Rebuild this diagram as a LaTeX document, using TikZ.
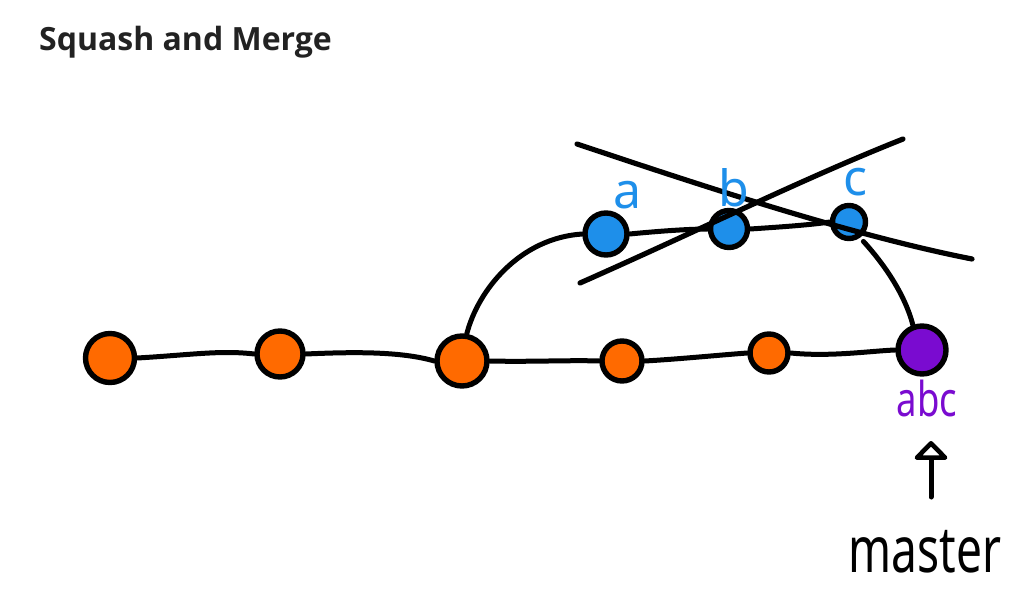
\documentclass[tikz,border=0pt]{standalone}
\usepackage{fontspec}
\setmainfont{Noto Sans}
\newfontfamily\titlefont{Open Sans}
\usetikzlibrary{arrows.meta}
\definecolor{cOrange}{HTML}{FF6A00}
\definecolor{cBlue}{HTML}{1E8FEA}
\definecolor{cPurple}{HTML}{7A0BD0}
\definecolor{cTitle}{HTML}{222222}
\tikzset{
  commit/.style={circle, draw=black, line width=5.4pt, inner sep=0pt},
  orangec/.style={commit, fill=cOrange},
  bluec/.style={commit, fill=cBlue},
  purplec/.style={commit, fill=cPurple},
  edge/.style={line width=5pt, line cap=round, black},
  crossline/.style={line width=5.2pt, line cap=round, black},
  lbl/.style={inner sep=0pt, font=\fontsize{50}{52}\selectfont},
}
\begin{document}
\begin{tikzpicture}[x=1pt,y=-1pt]
\useasboundingbox[fill=white] (0,0) rectangle (1027,593);
\node[anchor=west, inner sep=0pt, text=cTitle, font=\titlefont\fontsize{32}{36}\selectfont\bfseries] (title) at (39,42) {Squash and Merge};

% main line
\node[orangec, minimum width=48pt, minimum height=49pt] (o1) at (110,358) {};
\node[orangec, minimum width=46pt, minimum height=45pt] (o2) at (280,354) {};
\node[orangec, minimum width=50pt, minimum height=48pt] (o3) at (462,361) {};
\node[orangec, minimum width=40pt, minimum height=40pt] (o4) at (622,361) {};
\node[orangec, minimum width=37pt, minimum height=38pt] (o5) at (769,353) {};
\node[purplec, minimum width=45pt, minimum height=48pt] (m) at (922,350) {};

% branch
\node[bluec, minimum width=42pt, minimum height=39pt] (a) at (606,234) {};
\node[bluec, minimum width=36pt, minimum height=37pt] (b) at (729,229) {};
\node[bluec, minimum width=33pt, minimum height=32pt] (c) at (849,222) {};

\draw[edge] (o1.east) .. controls (190,355) and (220,350) .. (o2.west);
\draw[edge] (o2.east) .. controls (350,352) and (400,351) .. (o3.west);
\draw[edge] (o3.east) .. controls (530,362) and (570,360) .. (o4.west);
\draw[edge] (o4.east) .. controls (680,359) and (720,355) .. (o5.west);
\draw[edge] (o5.east) .. controls (830,357) and (870,351) .. (m.west);

\draw[edge] (o3.80) .. controls (478,290) and (520,238) .. (a.west);
\draw[edge] (a.east) .. controls (660,231) and (690,229) .. (b.west);
\draw[edge] (b.east) .. controls (780,227) and (810,225) .. (c.west);
\draw[edge, shorten <=5pt] (c.-55) .. controls (885,265) and (905,295) .. (m.110);

% cross-out lines
\coordinate (x1s) at (577,144);
\coordinate (x1e) at (972,259);
\coordinate (x2s) at (580,283);
\coordinate (x2e) at (903,139);
\draw[crossline] (x1s) .. controls (700,185) and (850,235) .. (x1e);
\draw[crossline] (x2s) .. controls (700,230) and (800,180) .. (x2e);

% labels
\node[lbl, text=cBlue] (la) at (628,195) {a};
\node[lbl, text=cBlue] (lb) at (734,188) {b};
\node[lbl, text=cBlue] (lc) at (855,182) {c};
\node[lbl, text=cPurple, xscale=0.76, font=\fontsize{48}{50}\selectfont] (labc) at (927,398) {abc};

\node[inner sep=0pt, font=\fontsize{64}{66}\selectfont, xscale=0.72] (master) at (925,552) {master};
\coordinate (arrTail) at (931,497);
\coordinate (arrHead) at (931,441);
\draw[line width=5pt, line cap=round, -{Triangle[open, round, length=20pt, width=38pt, line width=4.6pt]}] (arrTail) -- (arrHead);
\end{tikzpicture}
\end{document}
